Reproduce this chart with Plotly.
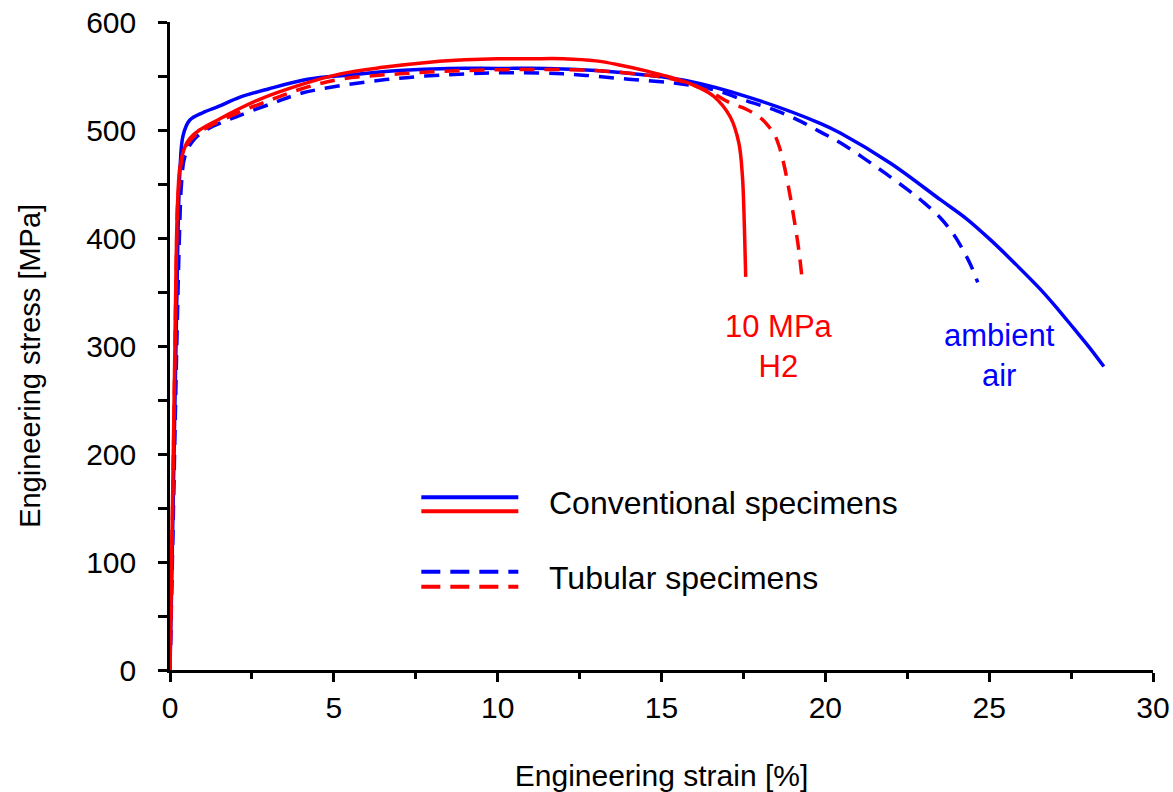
import plotly.graph_objects as go

# ---- data ----
conv_air_strain = [0, 0.1, 0.2, 0.3, 0.4, 0.6, 1.0, 1.5, 2.1, 3.0, 4.2, 5.5, 7.0, 8.5, 10.0, 11.5,
                   13.0, 14.5, 15.7, 17.7, 19.86, 20.47, 22.0, 23.53, 24.3, 25.05, 25.8, 26.58,
                   27.1, 27.59, 28.05, 28.5]
conv_air_stress = [0, 160, 330, 460, 495, 509, 516, 522, 530, 538, 547, 551, 555, 557, 557, 557,
                   555, 551, 546, 530, 506, 497, 469, 435, 418, 398, 376, 352,
                   334, 316, 299, 281]

tub_air_strain = [0, 0.1, 0.2, 0.3, 0.35, 0.45, 0.7, 1.1, 2.0, 3.15, 4.0, 5.2, 7.0, 9.0, 10.0, 12.0,
                  14.0, 15.5, 16.5, 17.6, 18.5, 19.25, 19.86, 20.47, 21.5, 22.5, 23.0, 23.5,
                  23.9, 24.2, 24.45, 24.65]
tub_air_stress = [0, 140, 290, 414, 450, 475, 490, 500, 512, 525, 534, 541, 548, 552, 553, 552,
                  547, 543, 538, 527, 518, 508, 498, 488, 467, 445, 433, 419,
                  404, 389, 374, 359]

conv_h2_strain = [0, 0.05, 0.1, 0.15, 0.2, 0.25, 0.3, 0.45, 0.6, 0.9, 1.5, 2.0, 2.7, 4.0, 5.2, 6.5,
                  8.0, 9.0, 10.0, 11.0, 12.0, 13.0, 13.75, 14.5, 15.0, 15.58, 16.1, 16.6, 17.1,
                  17.36, 17.47, 17.53, 17.57]
conv_h2_stress = [0, 100, 200, 300, 400, 445, 465, 484, 492, 500, 510, 518, 528, 542, 552, 558,
                  563, 565, 566, 566, 566, 564, 560, 555, 551, 546, 540, 531, 512,
                  488, 457, 410, 364]

tub_h2_strain = [0, 0.05, 0.1, 0.15, 0.2, 0.25, 0.4, 0.6, 1.0, 2.0, 3.0, 4.0, 5.2, 7.0, 9.0, 11.0,
                 13.0, 14.5, 15.5, 16.5, 17.1, 17.6, 18.03, 18.25, 18.43, 18.6, 18.73, 18.87,
                 19.0, 19.19, 19.3]
tub_h2_stress = [0, 95, 190, 290, 390, 440, 478, 490, 500, 515, 527, 538, 547, 552, 555, 556,
                 555, 551, 546, 535, 525, 519, 511, 504, 497, 484, 469, 448,
                 426, 389, 359]

x_ticks = [0, 5, 10, 15, 20, 25, 30]
y_ticks = [0, 100, 200, 300, 400, 500, 600]

legend_labels = ["Conventional specimens", "Tubular specimens"]
env_labels = ["10 MPa<br>H2", "ambient<br>air"]
x_title = "Engineering strain [%]"
y_title = "Engineering stress [MPa]"

BLUE = "#0000FF"
RED = "#FF0000"
FONT = "Liberation Sans, Arial, sans-serif"
DASH = "15px,10px"
SMOOTH = 1.0

fig = go.Figure()
fig.add_trace(go.Scatter(x=conv_air_strain, y=conv_air_stress, mode="lines",
                         line=dict(color=BLUE, width=3.5, shape="spline", smoothing=SMOOTH)))
fig.add_trace(go.Scatter(x=tub_air_strain, y=tub_air_stress, mode="lines",
                         line=dict(color=BLUE, width=3.5, dash=DASH, shape="spline", smoothing=SMOOTH)))
fig.add_trace(go.Scatter(x=tub_h2_strain, y=tub_h2_stress, mode="lines",
                         line=dict(color=RED, width=3.5, dash=DASH, shape="spline", smoothing=SMOOTH)))
fig.add_trace(go.Scatter(x=conv_h2_strain, y=conv_h2_stress, mode="lines",
                         line=dict(color=RED, width=3.5, shape="spline", smoothing=SMOOTH)))

# legend drawn as in the original figure
leg_x0, leg_x1 = 7.67, 10.63
fig.add_shape(type="line", xref="x", yref="y", x0=leg_x0, x1=leg_x1, y0=160, y1=160,
              line=dict(color=BLUE, width=4))
fig.add_shape(type="line", xref="x", yref="y", x0=leg_x0, x1=leg_x1, y0=147, y1=147,
              line=dict(color=RED, width=4))
fig.add_shape(type="line", xref="x", yref="y", x0=leg_x0, x1=leg_x1, y0=91, y1=91,
              line=dict(color=BLUE, width=4, dash="19px,10px"))
fig.add_shape(type="line", xref="x", yref="y", x0=leg_x0, x1=leg_x1, y0=77, y1=77,
              line=dict(color=RED, width=4, dash="19px,10px"))
fig.add_annotation(x=11.5, y=155, xref="x", yref="y", text=legend_labels[0], showarrow=False,
                   xanchor="left", yanchor="middle", font=dict(family=FONT, size=32, color="black"))
fig.add_annotation(x=11.5, y=85, xref="x", yref="y", text=legend_labels[1], showarrow=False,
                   xanchor="left", yanchor="middle", font=dict(family=FONT, size=32, color="black"))

fig.add_annotation(x=18.58, y=300, xref="x", yref="y", text=env_labels[0], showarrow=False,
                   xanchor="center", yanchor="middle", align="center",
                   font=dict(family=FONT, size=31, color=RED))
fig.add_annotation(x=25.3, y=291, xref="x", yref="y", text=env_labels[1], showarrow=False,
                   xanchor="center", yanchor="middle", align="center",
                   font=dict(family=FONT, size=31, color=BLUE))

# y axis title (placed as in the original, slightly below the axis centre)
fig.add_annotation(x=-0.142, y=282, xref="paper", yref="y", text=y_title, showarrow=False,
                   textangle=-90, xanchor="center", yanchor="middle",
                   font=dict(family=FONT, size=29, color="black"))

fig.update_layout(
    width=1173, height=792,
    margin=dict(l=170, r=20, t=22, b=122, autoexpand=False),
    paper_bgcolor="white", plot_bgcolor="white",
    showlegend=False,
    font=dict(family=FONT, color="black"),
)
fig.update_xaxes(
    range=[0, 30], tickvals=x_ticks, ticktext=[str(v) for v in x_ticks],
    automargin=False,
    showgrid=False, zeroline=False,
    showline=True, linecolor="black", linewidth=2.5,
    ticks="outside", ticklen=9, tickwidth=2.5, tickcolor="black",
    minor=dict(dtick=2.5, ticks="outside", ticklen=6, tickwidth=2.5, tickcolor="black", showgrid=False),
    tickfont=dict(family=FONT, size=30, color="black"),
    title=dict(text=x_title, font=dict(family=FONT, size=30, color="black"), standoff=43),
)
fig.update_yaxes(
    range=[0, 600], tickvals=y_ticks, ticktext=[str(v) for v in y_ticks],
    automargin=False,
    showgrid=False, zeroline=False,
    showline=True, linecolor="black", linewidth=2.5,
    ticks="outside", ticklen=9, tickwidth=2.5, tickcolor="black",
    ticklabelstandoff=16,
    minor=dict(dtick=50, ticks="outside", ticklen=9, tickwidth=2.5, tickcolor="black", showgrid=False),
    tickfont=dict(family=FONT, size=30, color="black"),
)

fig.write_html("out.html")
